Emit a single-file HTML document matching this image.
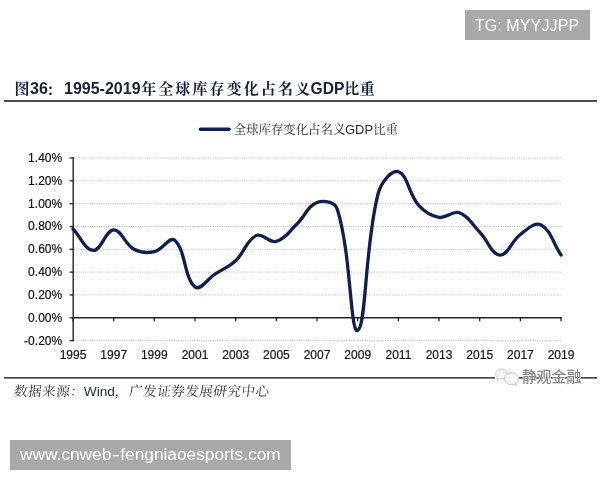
<!DOCTYPE html>
<html><head><meta charset="utf-8">
<style>
html,body{margin:0;padding:0;background:#fff;}
body{width:600px;height:480px;position:relative;overflow:hidden;font-family:"Liberation Sans","Noto Serif CJK SC",sans-serif;}
.tg{position:absolute;left:465px;top:10px;width:125px;height:30px;background:#a9a9a9;color:#fff;font-size:16px;line-height:31.5px;text-align:center;white-space:nowrap;letter-spacing:0.12px;text-indent:-1px}
.url{position:absolute;left:10px;top:440px;width:280.8px;height:29.5px;background:#a9a9a9;color:#fff;font-size:17.3px;line-height:29.5px;text-align:center;white-space:nowrap}
.title{position:absolute;left:14px;top:76px;font-size:16px;font-weight:bold;color:#12203f;white-space:nowrap;line-height:26px;}
.title .c{letter-spacing:2.1px;font-size:15px;margin-right:-1.6px;margin-left:0.6px}
.url .hy{display:inline-block;transform:scaleX(1.5);margin:0 1.6px}
.title .col{position:relative;left:-2px;top:1px}
.title .c2{letter-spacing:0.4px;margin-left:0}
.title .g{font-size:15.6px}
.hr1{position:absolute;left:4px;top:100px;width:593px;height:2px;background:#4a4a4a;}
.src{position:absolute;left:13.5px;top:381px;font-size:13.7px;color:#1c2744;white-space:nowrap;line-height:22px;}
.src .c{display:inline-block;transform:skewX(-7deg);font-size:13.6px;letter-spacing:0.45px;color:#333;margin-left:0.2px;margin-right:-0.2px}
svg{position:absolute;left:0;top:0}
svg text{font-family:"Liberation Sans","Noto Serif CJK SC",sans-serif;font-size:13px;fill:#111}
svg .lb text{stroke:#111;stroke-width:0.2px}
</style></head><body>
<div class="tg">TG: MYYJJPP</div>
<div class="title"><span class="c">图</span>36<span class="c col">：</span>1995-2019<span class="c">年全球库存变化占名义</span><span class="g">GDP</span><span class="c c2">比重</span></div>
<div class="hr1"></div>
<svg width="600" height="480" viewBox="0 0 600 480">
<line x1="200.5" x2="229" y1="129.3" y2="129.3" stroke="#0e2050" stroke-width="3.6" stroke-linecap="round"/>
<text y="133.8" style="font-size:12.5px;fill:#2a2a2a;letter-spacing:-0.1px"><tspan x="233.7">全球库存变化占名义</tspan><tspan x="345" style="font-size:13px;letter-spacing:0">GDP</tspan><tspan x="373.4" style="font-size:12.2px;letter-spacing:0">比重</tspan></text>
<line x1="74" x2="561" y1="158.0" y2="158.0" stroke="#bcbcbc" stroke-width="1" stroke-dasharray="1.1,1.17"/>
<line x1="69.6" x2="73.2" y1="158.0" y2="158.0" stroke="#222" stroke-width="1.3"/>
<line x1="74" x2="561" y1="180.8" y2="180.8" stroke="#bcbcbc" stroke-width="1" stroke-dasharray="1.1,1.17"/>
<line x1="69.6" x2="73.2" y1="180.8" y2="180.8" stroke="#222" stroke-width="1.3"/>
<line x1="74" x2="561" y1="203.7" y2="203.7" stroke="#bcbcbc" stroke-width="1" stroke-dasharray="1.1,1.17"/>
<line x1="69.6" x2="73.2" y1="203.7" y2="203.7" stroke="#222" stroke-width="1.3"/>
<line x1="74" x2="561" y1="226.5" y2="226.5" stroke="#bcbcbc" stroke-width="1" stroke-dasharray="1.1,1.17"/>
<line x1="69.6" x2="73.2" y1="226.5" y2="226.5" stroke="#222" stroke-width="1.3"/>
<line x1="74" x2="561" y1="249.3" y2="249.3" stroke="#bcbcbc" stroke-width="1" stroke-dasharray="1.1,1.17"/>
<line x1="69.6" x2="73.2" y1="249.3" y2="249.3" stroke="#222" stroke-width="1.3"/>
<line x1="74" x2="561" y1="272.1" y2="272.1" stroke="#bcbcbc" stroke-width="1" stroke-dasharray="1.1,1.17"/>
<line x1="69.6" x2="73.2" y1="272.1" y2="272.1" stroke="#222" stroke-width="1.3"/>
<line x1="74" x2="561" y1="294.9" y2="294.9" stroke="#bcbcbc" stroke-width="1" stroke-dasharray="1.1,1.17"/>
<line x1="69.6" x2="73.2" y1="294.9" y2="294.9" stroke="#222" stroke-width="1.3"/>
<line x1="69.6" x2="73.2" y1="317.8" y2="317.8" stroke="#222" stroke-width="1.3"/>
<line x1="74" x2="561" y1="340.6" y2="340.6" stroke="#bcbcbc" stroke-width="1" stroke-dasharray="1.1,1.17"/>
<line x1="69.6" x2="73.2" y1="340.6" y2="340.6" stroke="#222" stroke-width="1.3"/>

<line x1="73.2" x2="73.2" y1="157.3" y2="341.3" stroke="#222" stroke-width="1.4"/>
<line x1="72.5" x2="561.7" y1="317.8" y2="317.8" stroke="#222" stroke-width="1.4"/>
<line x1="73.0" x2="73.0" y1="317.8" y2="321.2" stroke="#222" stroke-width="1.3"/>
<line x1="113.7" x2="113.7" y1="317.8" y2="321.2" stroke="#222" stroke-width="1.3"/>
<line x1="154.3" x2="154.3" y1="317.8" y2="321.2" stroke="#222" stroke-width="1.3"/>
<line x1="195.0" x2="195.0" y1="317.8" y2="321.2" stroke="#222" stroke-width="1.3"/>
<line x1="235.7" x2="235.7" y1="317.8" y2="321.2" stroke="#222" stroke-width="1.3"/>
<line x1="276.4" x2="276.4" y1="317.8" y2="321.2" stroke="#222" stroke-width="1.3"/>
<line x1="317.0" x2="317.0" y1="317.8" y2="321.2" stroke="#222" stroke-width="1.3"/>
<line x1="357.7" x2="357.7" y1="317.8" y2="321.2" stroke="#222" stroke-width="1.3"/>
<line x1="398.4" x2="398.4" y1="317.8" y2="321.2" stroke="#222" stroke-width="1.3"/>
<line x1="439.0" x2="439.0" y1="317.8" y2="321.2" stroke="#222" stroke-width="1.3"/>
<line x1="479.7" x2="479.7" y1="317.8" y2="321.2" stroke="#222" stroke-width="1.3"/>
<line x1="520.4" x2="520.4" y1="317.8" y2="321.2" stroke="#222" stroke-width="1.3"/>
<line x1="561.0" x2="561.0" y1="317.8" y2="321.2" stroke="#222" stroke-width="1.3"/>

<g class="lb"><text transform="translate(62.2,161.9) scale(0.925,1)" text-anchor="end">1.40%</text>
<text transform="translate(62.2,184.7) scale(0.925,1)" text-anchor="end">1.20%</text>
<text transform="translate(62.2,207.6) scale(0.925,1)" text-anchor="end">1.00%</text>
<text transform="translate(62.2,230.4) scale(0.925,1)" text-anchor="end">0.80%</text>
<text transform="translate(62.2,253.2) scale(0.925,1)" text-anchor="end">0.60%</text>
<text transform="translate(62.2,276.0) scale(0.925,1)" text-anchor="end">0.40%</text>
<text transform="translate(62.2,298.8) scale(0.925,1)" text-anchor="end">0.20%</text>
<text transform="translate(62.2,321.7) scale(0.925,1)" text-anchor="end">0.00%</text>
<text transform="translate(62.2,344.5) scale(0.925,1)" text-anchor="end">-0.20%</text>
</g>
<g class="lb"><text transform="translate(73.0,359.2) scale(0.925,1)" text-anchor="middle">1995</text>
<text transform="translate(113.7,359.2) scale(0.925,1)" text-anchor="middle">1997</text>
<text transform="translate(154.3,359.2) scale(0.925,1)" text-anchor="middle">1999</text>
<text transform="translate(195.0,359.2) scale(0.925,1)" text-anchor="middle">2001</text>
<text transform="translate(235.7,359.2) scale(0.925,1)" text-anchor="middle">2003</text>
<text transform="translate(276.4,359.2) scale(0.925,1)" text-anchor="middle">2005</text>
<text transform="translate(317.0,359.2) scale(0.925,1)" text-anchor="middle">2007</text>
<text transform="translate(357.7,359.2) scale(0.925,1)" text-anchor="middle">2009</text>
<text transform="translate(398.4,359.2) scale(0.925,1)" text-anchor="middle">2011</text>
<text transform="translate(439.0,359.2) scale(0.925,1)" text-anchor="middle">2013</text>
<text transform="translate(479.7,359.2) scale(0.925,1)" text-anchor="middle">2015</text>
<text transform="translate(520.4,359.2) scale(0.925,1)" text-anchor="middle">2017</text>
<text transform="translate(561.0,359.2) scale(0.925,1)" text-anchor="middle">2019</text>
</g>
<path d="M73.00,228.78 C81.13,237.46 85.09,250.23 93.34,250.47 C101.35,250.69 105.42,230.16 113.67,229.92 C121.69,229.70 124.59,244.31 134.00,249.33 C140.86,252.98 146.74,253.31 154.34,251.61 C163.00,249.66 169.57,235.76 174.68,240.20 C185.84,249.91 183.98,277.85 195.01,286.99 C200.24,291.32 207.21,279.11 215.34,273.86 C223.48,268.61 228.71,267.29 235.68,260.74 C244.98,251.99 246.18,240.32 256.01,235.63 C262.45,232.56 269.15,243.36 276.35,241.34 C285.42,238.79 289.01,231.54 296.69,224.22 C305.27,216.02 307.57,205.98 317.02,202.53 C323.84,200.05 334.94,201.77 337.36,209.38 C351.20,252.99 350.03,333.48 357.69,330.58 C366.30,327.32 364.67,246.13 378.03,193.97 C380.94,182.59 391.30,169.74 398.36,171.72 C407.57,174.30 408.53,193.98 418.69,205.39 C424.80,212.24 430.39,215.79 439.03,217.37 C446.66,218.76 452.44,210.28 459.37,212.81 C468.71,216.21 471.91,224.12 479.70,232.21 C488.18,241.01 491.67,254.56 500.04,255.03 C507.94,255.47 511.23,241.29 520.37,234.49 C527.50,229.19 534.49,221.65 540.71,224.79 C550.76,229.87 552.91,242.93 561.04,255.03" fill="none" stroke="#0e2050" stroke-width="3.3" stroke-linecap="round" stroke-linejoin="round"/>
<rect x="4" y="377" width="593" height="1.7" fill="#4a4a4a"/>
<g>
<rect x="495" y="375" width="24" height="6" fill="#fff" opacity="0.9"/>
<path d="M501.5,369 c-3.3,0 -5.8,2.3 -5.8,5 c0,1.6 0.8,2.9 2.1,3.8 l-0.6,2 l2.3,-1.2 c0.6,0.2 1.3,0.3 2,0.3 c3.3,0 5.8,-2.2 5.8,-4.9 c0,-2.7 -2.5,-5 -5.8,-5 z" fill="#fff" stroke="#c4c4c4" stroke-width="1"/>
<path d="M511.5,372.6 c-3.9,0 -6.9,2.7 -6.9,6 c0,3.3 3,6 6.9,6 c0.8,0 1.6,-0.1 2.3,-0.4 l2.6,1.4 l-0.7,-2.3 c1.6,-1.1 2.6,-2.8 2.6,-4.7 c0,-3.3 -3,-6 -6.8,-6 z" fill="#fff" stroke="#bdbdbd" stroke-width="1"/>
<circle cx="499.6" cy="372.6" r="0.6" fill="#ccc"/><circle cx="503.4" cy="372.6" r="0.6" fill="#ccc"/>
<circle cx="509.3" cy="377.2" r="0.6" fill="#ccc"/><circle cx="513.6" cy="377.2" r="0.6" fill="#ccc"/>
<text x="522" y="381.9" style="font-family:'Liberation Sans','Noto Sans CJK SC',sans-serif;font-size:14.8px;font-weight:500;fill:#858585;stroke:#fff;stroke-width:1.1px;paint-order:stroke;stroke-linejoin:round">静观金融</text>
</g>
</svg>
<div class="src"><span class="c">数据来源：</span>Wind<span class="c">，广发证券发展研究中心</span></div>
<div class="url">www.cnweb<span class="hy">-</span>fengniaoesports.com</div>
</body></html>
